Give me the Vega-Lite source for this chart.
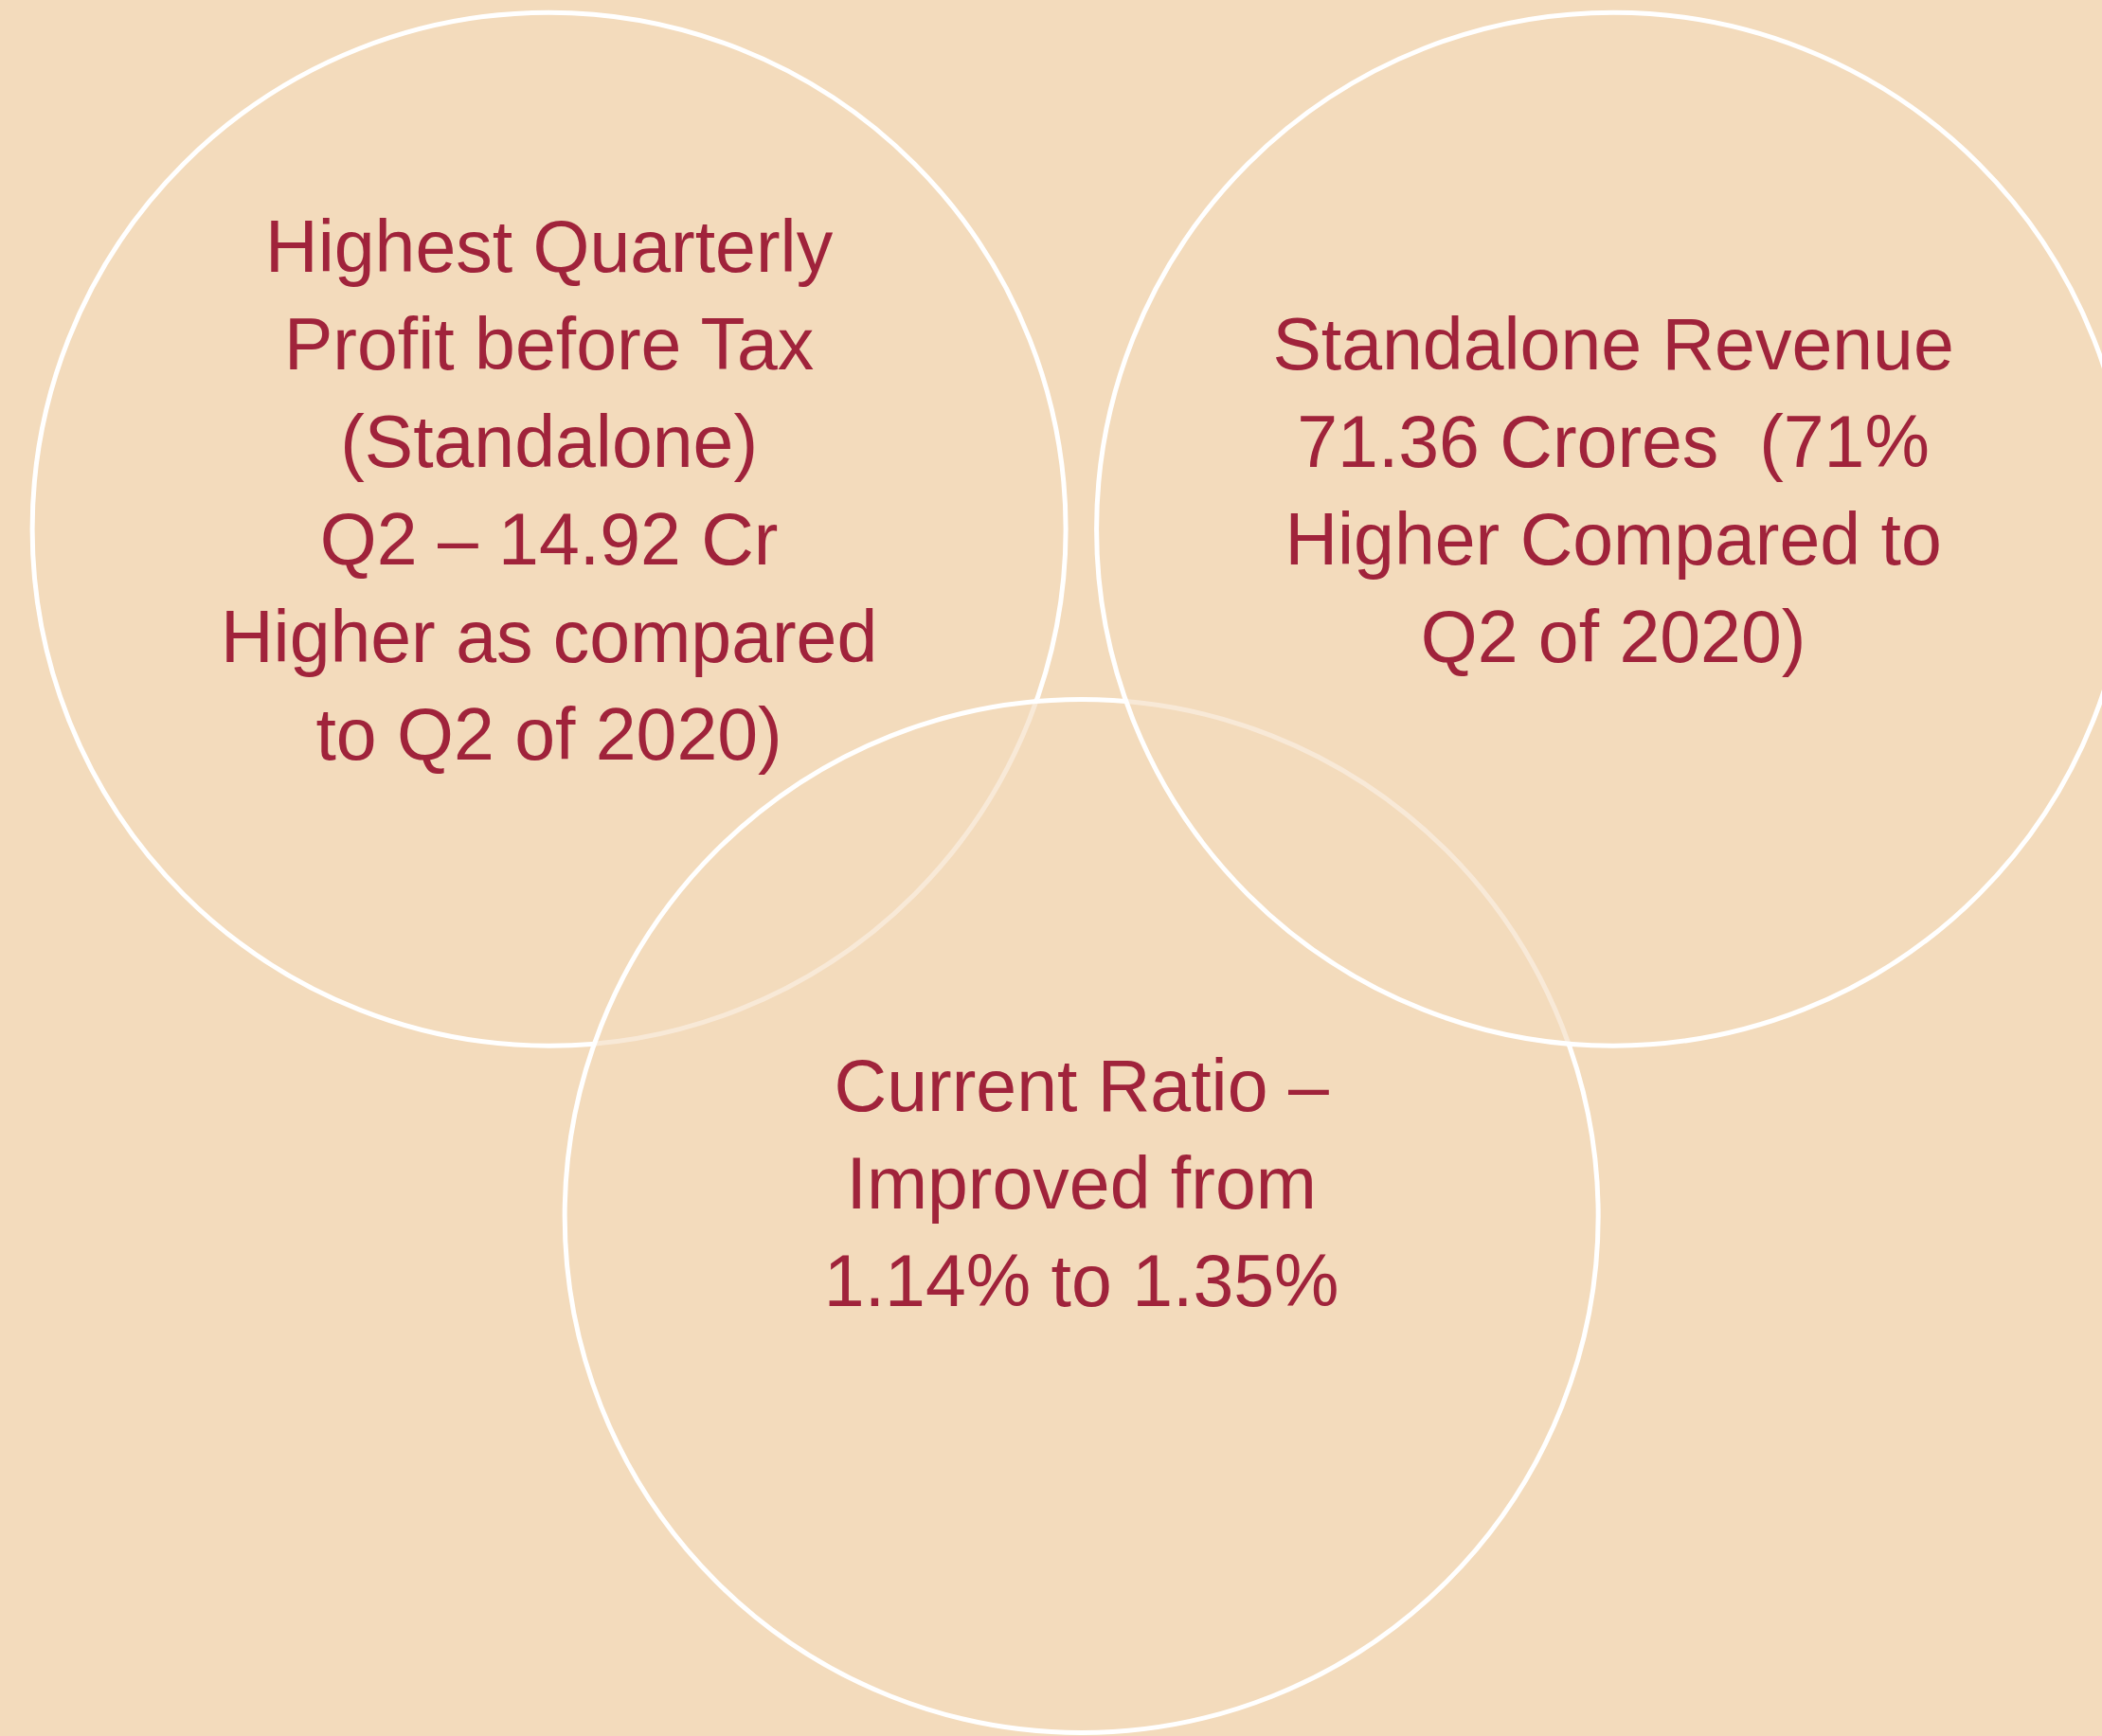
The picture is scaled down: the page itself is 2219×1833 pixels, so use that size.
{
  "$schema": "https://vega.github.io/schema/vega-lite/v6.json",
  "autosize": "none",
  "width": 2219,
  "height": 1833,
  "padding": 0,
  "background": "#F3DBBC",
  "config": {"view": {"stroke": null}},
  "data": {
    "values": [
      {"circle": "Profit", "cx": 26.12, "cy": 30.48, "label_y": 14.42, "label": "Highest Quarterly\nProfit before Tax\n(Standalone)\nQ2 – 14.92 Cr\nHigher as compared\nto Q2 of 2020)"},
      {"circle": "Current Ratio", "cx": 51.45, "cy": 70.05, "label_y": 62.74, "label": "Current Ratio –\nImproved from\n1.14% to 1.35%"},
      {"circle": "Revenue", "cx": 76.75, "cy": 30.48, "label_y": 20.02, "label": "Standalone Revenue\n71.36 Crores \u00a0(71%\nHigher Compared to\nQ2 of 2020)"}
    ]
  },
  "layer": [
    {
      "mark": {"type": "point", "shape": "circle", "filled": true, "clip": true, "size": 1190281, "fill": "#F3DBBC", "fillOpacity": 0.6, "opacity": 1, "stroke": "#FFFFFF", "strokeWidth": 5, "strokeOpacity": 1},
      "encoding": {
        "x": {"field": "cx", "type": "quantitative", "scale": {"domain": [0, 100], "nice": false, "zero": false}, "axis": null},
        "y": {"field": "cy", "type": "quantitative", "scale": {"domain": [0, 100], "nice": false, "zero": false, "reverse": true}, "axis": null}
      }
    },
    {
      "mark": {"type": "text", "font": "Liberation Sans", "fontSize": 77, "lineHeight": 103, "lineBreak": "\n", "align": "center", "baseline": "middle", "color": "#A0233B"},
      "encoding": {
        "x": {"field": "cx", "type": "quantitative", "scale": {"domain": [0, 100], "nice": false, "zero": false}, "axis": null},
        "y": {"field": "label_y", "type": "quantitative", "scale": {"domain": [0, 100], "nice": false, "zero": false, "reverse": true}, "axis": null},
        "text": {"field": "label", "type": "nominal"}
      }
    }
  ]
}
